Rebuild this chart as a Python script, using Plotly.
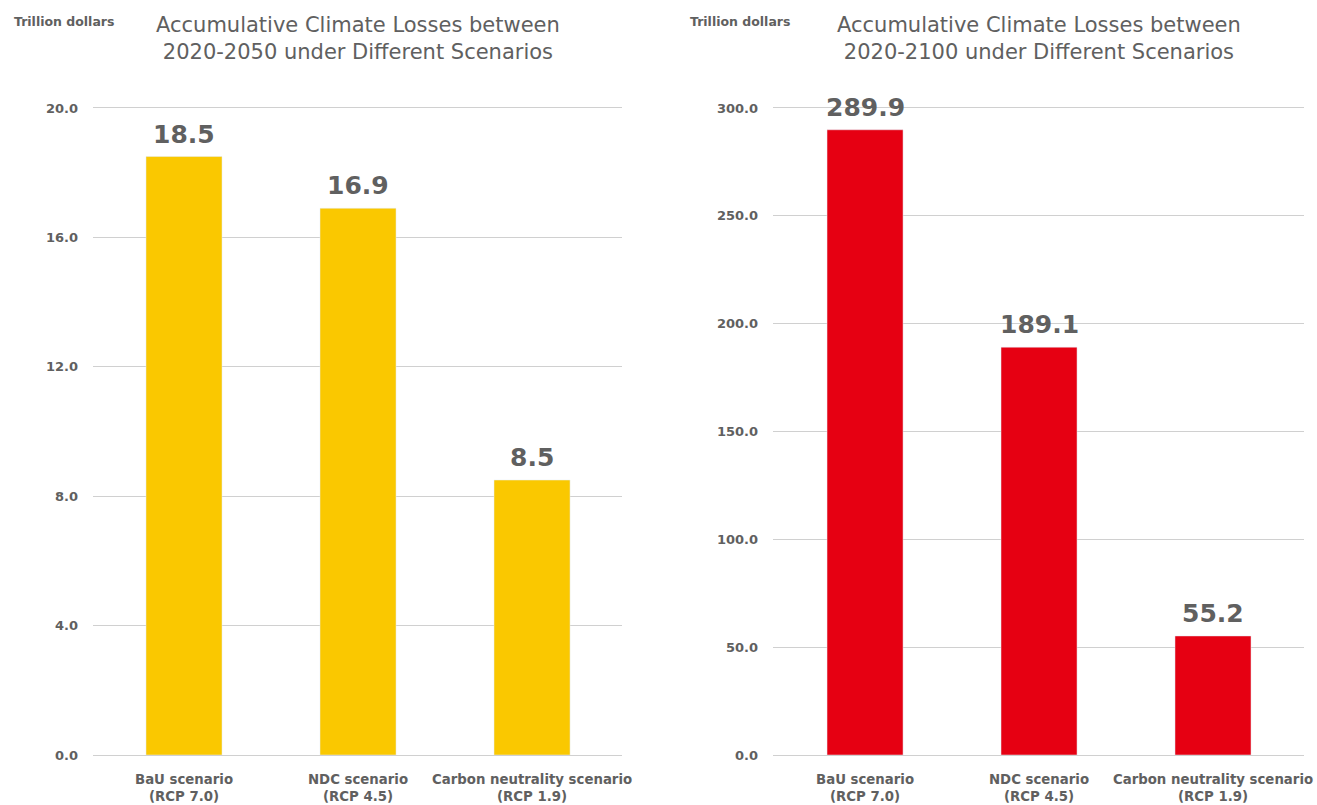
import plotly.graph_objects as go

categories = ["BaU scenario<br>(RCP 7.0)", "NDC scenario<br>(RCP 4.5)", "Carbon neutrality scenario<br>(RCP 1.9)"]
losses_2050 = [18.5, 16.9, 8.5]
losses_2100 = [289.9, 189.1, 55.2]
ticks_2050 = [0, 4, 8, 12, 16, 20]
ticks_2100 = [0, 50, 100, 150, 200, 250, 300]

FONT = "DejaVu Sans"
GRAY = "#606060"
GRID = "#D0D0D0"

fig = go.Figure()
fig.add_trace(go.Bar(x=categories, y=losses_2050, marker_color="#FAC800", width=0.437,
                     xaxis="x", yaxis="y", hoverinfo="x+y"))
fig.add_trace(go.Bar(x=categories, y=losses_2100, marker_color="#E60012", width=0.437,
                     xaxis="x2", yaxis="y2", hoverinfo="x+y"))

ydom = [1 - 755 / 805, 1 - 108 / 805]
axis_common = dict(showgrid=True, gridcolor=GRID, gridwidth=1.3, zeroline=False,
                   tickfont=dict(size=13, color=GRAY, family=FONT, weight="bold"), tickformat=".1f",
                   ticks="", showline=False, automargin=False, ticklabelstandoff=14)
xaxis_common = dict(showgrid=False, tickfont=dict(size=13.3, color=GRAY, family=FONT, weight="bold"),
                    showline=True, mirror=True, linecolor=GRID, linewidth=1.3,
                    ticks="", automargin=False, ticklabelstandoff=12)

fig.update_layout(
    width=1317, height=805,
    margin=dict(l=0, r=0, t=0, b=0),
    paper_bgcolor="white", plot_bgcolor="white",
    showlegend=False,
    xaxis=dict(domain=[93 / 1317, 622 / 1317], range=[-0.523, 2.517], anchor="y", **xaxis_common),
    yaxis=dict(domain=ydom, range=[0, 20], tickvals=ticks_2050, anchor="x", **axis_common),
    xaxis2=dict(domain=[773 / 1317, 1304 / 1317], range=[-0.529, 2.523], anchor="y2", **xaxis_common),
    yaxis2=dict(domain=ydom, range=[0, 300], tickvals=ticks_2100, anchor="x2", **axis_common),
    font=dict(family=FONT, color=GRAY),
)

annotations = [
    dict(text="<b>Trillion dollars</b>", x=12 / 1317, y=1 - 22 / 805, xanchor="left", yanchor="middle",
         font=dict(size=12.5, color=GRAY, family=FONT)),
    dict(text="<b>Trillion dollars</b>", x=688 / 1317, y=1 - 22 / 805, xanchor="left", yanchor="middle",
         font=dict(size=12.5, color=GRAY, family=FONT)),
    dict(text="Accumulative Climate Losses between<br>2020-2050 under Different Scenarios",
         x=358 / 1317, y=1 - 38 / 805, xanchor="center", yanchor="middle",
         font=dict(size=21, color=GRAY, family=FONT)),
    dict(text="Accumulative Climate Losses between<br>2020-2100 under Different Scenarios",
         x=1039 / 1317, y=1 - 38 / 805, xanchor="center", yanchor="middle",
         font=dict(size=21, color=GRAY, family=FONT)),
]
for a in annotations:
    a.update(xref="paper", yref="paper", showarrow=False)

# value labels above each bar
for xr, yr, vals in (("x", "y", losses_2050), ("x2", "y2", losses_2100)):
    for cat, v in zip(categories, vals):
        annotations.append(dict(text=f"<b>{v:.1f}</b>", x=cat, y=v, xref=xr, yref=yr,
                                xanchor="center", yanchor="bottom", yshift=6, showarrow=False,
                                font=dict(size=25, color=GRAY, family=FONT)))
fig.update_layout(annotations=annotations)

fig.write_html("out.html")
